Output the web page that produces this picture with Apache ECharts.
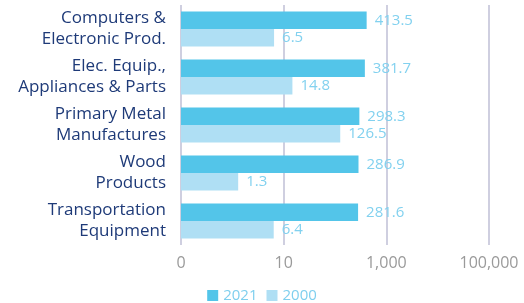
<!DOCTYPE html>
<html>
<head>
<meta charset="utf-8">
<script src="https://cdn.jsdelivr.net/npm/echarts@6/dist/echarts.min.js"></script>
<style>
  html, body { margin: 0; padding: 0; background: #fff; }
  #chart { width: 524px; height: 303px; }
</style>
</head>
<body>
<div id="chart"></div>
<script>
var categories = [
  'Computers &\nElectronic Prod.',
  'Elec. Equip.,\nAppliances & Parts',
  'Primary Metal\nManufactures',
  'Wood\nProducts',
  'Transportation\nEquipment'
]
var values2021 = [413.5, 381.7, 298.3, 286.9, 281.6]
var values2000 = [6.5, 14.8, 126.5, 1.3, 6.4]

var chart = echarts.init(document.getElementById('chart'))

function barLabel() {
  return {
    show: true,
    position: 'right',
    distance: 8,
    fontFamily: 'Open Sans',
    fontSize: 15,
    color: '#82d1ef',
    formatter: function(p) { return p.value.toFixed(1) }
  }
}

chart.setOption({
  backgroundColor: '#fff',
  animation: false,
  textStyle: { fontFamily: 'Open Sans' },
  legend: {
    top: 283,
    left: 'center',
    icon: 'rect',
    itemWidth: 11,
    itemHeight: 11,
    itemGap: 9,
    textStyle: { fontSize: 15, color: '#7fcfee', fontFamily: 'Open Sans' },
    data: ['2021', '2000']
  },
  grid: {
    left: 181,
    right: 35,
    top: 5,
    bottom: 58
  },
  xAxis: {
    type: 'log',
    logBase: 10,
    min: 0.1,
    max: 100000,
    interval: 2,
    startValue: 0.1,
    axisLine: { show: false },
    axisTick: { show: false },
    splitLine: { show: true, lineStyle: { color: '#cfcfe0', width: 2 } },
    axisLabel: {
      margin: 10,
      fontSize: 16,
      color: '#9a9a9a',
      formatter: function(v) {
        return Math.round(v).toLocaleString('en-US')
      }
    }
  },
  yAxis: {
    type: 'category',
    inverse: true,
    data: categories,
    axisLine: { show: false },
    axisTick: { show: false },
    axisLabel: {
      margin: 15,
      fontSize: 17,
      lineHeight: 21,
      color: '#1e3a78',
      align: 'right'
    }
  },
  series: [
    {
      name: '2021',
      type: 'bar',
      data: values2021,
      barWidth: 17.5,
      barGap: '0%',
      itemStyle: { color: '#53c5e9' },
      label: barLabel()
    },
    {
      name: '2000',
      type: 'bar',
      data: values2000,
      barWidth: 17.5,
      itemStyle: { color: '#afdff4' },
      label: barLabel()
    }
  ]
})
</script>
</body>
</html>
